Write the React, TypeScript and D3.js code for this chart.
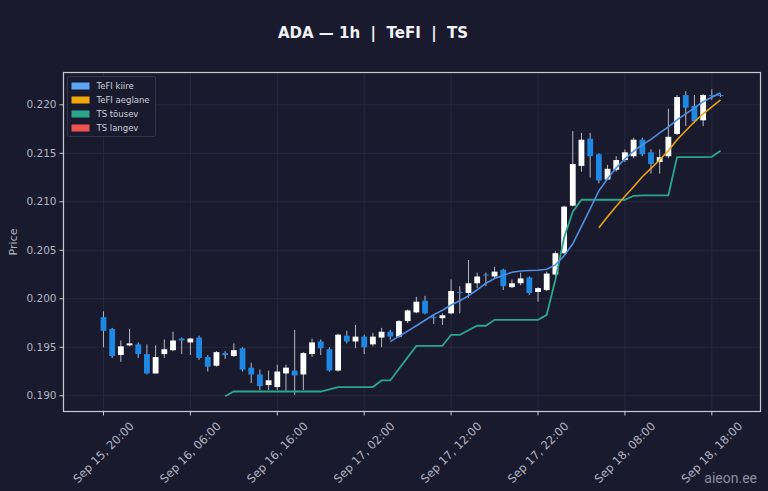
import * as d3 from 'd3';

// hourly candles, starting Sep 15 20:00 (UTC)
const startTime = '2025-09-15T20:00:00Z';

const opens = [
  0.1981, 0.1969, 0.1942, 0.1952, 0.1953, 0.1943, 0.1923, 0.1943, 0.1947, 0.1959,
  0.1955, 0.1960, 0.1940, 0.1931, 0.1944, 0.1941, 0.1949, 0.1929, 0.1922, 0.1911,
  0.1909, 0.1923, 0.1926, 0.1922, 0.1943, 0.1956, 0.1948, 0.1926, 0.1962, 0.1956,
  0.1961, 0.1953, 0.1960, 0.1966, 0.1961, 0.1977, 0.1986, 0.1998, 0.1981, 0.1980,
  0.1985, 0.2007, 0.2006, 0.2016, 0.2025, 0.2023, 0.2030, 0.2012, 0.2016, 0.2022,
  0.2007, 0.2009, 0.2025, 0.2047, 0.2096, 0.2137, 0.2165, 0.2149, 0.2123, 0.2133,
  0.2143, 0.2147, 0.2164, 0.2151, 0.2141, 0.2147, 0.2170, 0.2210, 0.2199, 0.2184,
  0.2210, 0.2210,
];
const highs = [
  0.1987, 0.1970, 0.1957, 0.1969, 0.1955, 0.1953, 0.1952, 0.1958, 0.1966, 0.1960,
  0.1960, 0.1962, 0.1942, 0.1946, 0.1946, 0.1954, 0.1950, 0.1934, 0.1927, 0.1926,
  0.1932, 0.1932, 0.1968, 0.1945, 0.1959, 0.1958, 0.1950, 0.1964, 0.1967, 0.1973,
  0.1963, 0.1965, 0.1970, 0.1968, 0.1978, 0.1989, 0.2002, 0.2003, 0.1984, 0.1985,
  0.2020, 0.2013, 0.2040, 0.2027, 0.2027, 0.2033, 0.2031, 0.2020, 0.2027, 0.2023,
  0.2012, 0.2028, 0.2049, 0.2096, 0.2173, 0.2171, 0.2171, 0.2150, 0.2138, 0.2147,
  0.2154, 0.2166, 0.2166, 0.2154, 0.2154, 0.2196, 0.2210, 0.2214, 0.2210, 0.2211,
  0.2216, 0.2211,
];
const lows = [
  0.1950, 0.1939, 0.1935, 0.1951, 0.1939, 0.1922, 0.1923, 0.1939, 0.1946, 0.1943,
  0.1942, 0.1937, 0.1925, 0.1930, 0.1938, 0.1940, 0.1925, 0.1913, 0.1906, 0.1906,
  0.1906, 0.1905, 0.1901, 0.1906, 0.1940, 0.1942, 0.1925, 0.1925, 0.1954, 0.1949,
  0.1943, 0.1951, 0.1950, 0.1958, 0.1960, 0.1975, 0.1985, 0.1984, 0.1974, 0.1973,
  0.1984, 0.1985, 0.2001, 0.2011, 0.2013, 0.2021, 0.2009, 0.2011, 0.2014, 0.2004,
  0.1997, 0.2008, 0.2023, 0.2046, 0.2095, 0.2131, 0.2125, 0.2119, 0.2123, 0.2131,
  0.2141, 0.2145, 0.2147, 0.2129, 0.2129, 0.2145, 0.2169, 0.2178, 0.2181, 0.2178,
  0.2205, 0.2208,
];
const closes = [
  0.1967, 0.1941, 0.1951, 0.1954, 0.1943, 0.1923, 0.1940, 0.1948, 0.1957, 0.1957,
  0.1959, 0.1939, 0.1930, 0.1945, 0.1942, 0.1947, 0.1927, 0.1922, 0.1910, 0.1916,
  0.1925, 0.1929, 0.1921, 0.1944, 0.1955, 0.1949, 0.1926, 0.1963, 0.1956, 0.1961,
  0.1950, 0.1961, 0.1966, 0.1961, 0.1977, 0.1988, 0.1997, 0.1985, 0.1980, 0.1983,
  0.2008, 0.2006, 0.2016, 0.2023, 0.2024, 0.2028, 0.2013, 0.2016, 0.2021, 0.2006,
  0.2011, 0.2026, 0.2047, 0.2095, 0.2139, 0.2164, 0.2147, 0.2122, 0.2134, 0.2143,
  0.2151, 0.2164, 0.2149, 0.2139, 0.2146, 0.2167, 0.2208, 0.2197, 0.2183, 0.2210,
  0.2209, 0.2209,
];

// indicator lines: [candle index, value]
const tefiFast: [number, number][] = [
  [33, 0.19559], [34, 0.19613], [35, 0.19667], [36, 0.19722], [37, 0.19779],
  [38, 0.19835], [39, 0.19882], [40, 0.19936], [41, 0.19979], [42, 0.20031],
  [43, 0.20093], [44, 0.2016], [45, 0.20209], [46, 0.20242], [47, 0.20273],
  [48, 0.20286], [49, 0.20292], [50, 0.20294], [51, 0.20304], [52, 0.2035],
  [53, 0.20443], [54, 0.20567], [55, 0.20747], [56, 0.20928], [57, 0.21113],
  [58, 0.21237], [59, 0.2135], [60, 0.21443], [61, 0.21521], [62, 0.21588],
  [63, 0.21644], [64, 0.21711], [65, 0.21773], [66, 0.21845], [67, 0.21907],
  [68, 0.21969], [69, 0.22031], [70, 0.22077], [71, 0.22124],
];
const tefiSlow: [number, number][] = [
  [57, 0.20732], [58, 0.20845], [59, 0.20954], [60, 0.21057], [61, 0.21155],
  [62, 0.21258], [63, 0.21345], [64, 0.21433], [65, 0.21526], [66, 0.21639],
  [67, 0.21732], [68, 0.21825], [69, 0.21907], [70, 0.21979], [71, 0.22052],
];
const tsUp: [number, number][] = [
  [14, 0.18995], [15, 0.19044], [16, 0.19044], [17, 0.19044], [18, 0.19044],
  [19, 0.19044], [20, 0.19044], [21, 0.19044], [22, 0.19044], [23, 0.19044],
  [24, 0.19044], [25, 0.19044], [26, 0.19067], [27, 0.1909], [28, 0.1909],
  [29, 0.1909], [30, 0.1909], [31, 0.1909], [32, 0.19158], [33, 0.19158],
  [34, 0.19278], [35, 0.19396], [36, 0.19515], [37, 0.19515], [38, 0.19515],
  [39, 0.19515], [40, 0.19629], [41, 0.19629], [42, 0.19675], [43, 0.19722],
  [44, 0.19722], [45, 0.19783], [46, 0.19783], [47, 0.19783], [48, 0.19783],
  [49, 0.19783], [50, 0.19783], [51, 0.19835], [52, 0.20196], [53, 0.20629],
  [54, 0.20897], [55, 0.21021], [56, 0.21021], [57, 0.21021], [58, 0.21021],
  [59, 0.21021], [60, 0.21021], [61, 0.21062], [62, 0.21067], [63, 0.21067],
  [64, 0.21067], [65, 0.21067], [66, 0.21461], [67, 0.21461], [68, 0.21461],
  [69, 0.21461], [70, 0.21464], [71, 0.21526],
];

const xTicks = [
  '2025-09-15T20:00:00Z', '2025-09-16T06:00:00Z', '2025-09-16T16:00:00Z', '2025-09-17T02:00:00Z',
  '2025-09-17T12:00:00Z', '2025-09-17T22:00:00Z', '2025-09-18T08:00:00Z', '2025-09-18T18:00:00Z',
];
const yTicks = [0.19, 0.195, 0.2, 0.205, 0.21, 0.215, 0.22];

const legendItems = [
  { label: 'TeFI kiire', color: '#5aa6f5' },
  { label: 'TeFI aeglane', color: '#f0a80c' },
  { label: 'TS tõusev', color: '#2ba58b' },
  { label: 'TS langev', color: '#ef5350' },
];

const W = 768;
const H = 491;
const left = 63.5;
const right = 760.5;
const top = 72.5;
const bottom = 411.5;
const HOUR = 3600 * 1000;
const BG = '#1a1a2e';
const TXT = '#b4b4c2';
const font = 'DejaVu Sans, sans-serif';

const t0 = new Date(startTime).getTime();
const timeAt = (i: number) => new Date(t0 + i * HOUR);

export default function App() {
  const n = closes.length;
  const x = d3
    .scaleUtc()
    .domain([new Date(t0 - 4.6 * HOUR), new Date(t0 + (n - 1 + 4.6) * HOUR)])
    .range([left, right]);
  const y = d3.scaleLinear().domain([0.18838, 0.22333]).range([bottom, top]);
  const fmt = d3.utcFormat('%b %d, %H:%M');
  const bodyW = 5.8;

  const line = d3
    .line<[number, number]>()
    .x((d) => x(timeAt(d[0])))
    .y((d) => y(d[1]));

  return (
    <svg width={W} height={H} style={{ position: 'fixed', left: 0, top: 0, background: BG }} fontFamily={font}>
      <rect width={W} height={H} fill={BG} />
      <text
        x={373}
        y={38}
        textAnchor="middle"
        fill="#f2f2f5"
        fontSize={15}
        fontWeight="bold"
        style={{ whiteSpace: 'pre' }}
      >
        {'ADA — 1h  |  TeFI  |  TS'}
      </text>

      {/* grid */}
      <g stroke="#2b2b45" strokeWidth={0.8}>
        {xTicks.map((t) => (
          <line key={t} x1={x(new Date(t))} x2={x(new Date(t))} y1={top} y2={bottom} />
        ))}
        {yTicks.map((v) => (
          <line key={v} x1={left} x2={right} y1={y(v)} y2={y(v)} />
        ))}
      </g>

      {/* candles */}
      {closes.map((c, i) => {
        const o = opens[i];
        const cx = x(timeAt(i));
        const up = c >= o;
        const y1 = y(Math.max(o, c));
        const y2 = y(Math.min(o, c));
        return (
          <g key={i}>
            <line x1={cx} x2={cx} y1={y(highs[i])} y2={y(lows[i])} stroke="#b8b8c0" strokeWidth={1} />
            <rect
              x={cx - bodyW / 2}
              y={y1}
              width={bodyW}
              height={Math.max(1, y2 - y1)}
              fill={up ? '#ffffff' : '#1e88e5'}
            />
          </g>
        );
      })}

      {/* indicators */}
      <path d={line(tsUp) ?? ''} fill="none" stroke="#2ba58b" strokeWidth={1.8} />
      <path d={line(tefiSlow) ?? ''} fill="none" stroke="#e8a317" strokeWidth={1.6} />
      <path d={line(tefiFast) ?? ''} fill="none" stroke="#4f8fdf" strokeWidth={1.6} />

      {/* frame */}
      <rect x={left} y={top} width={right - left} height={bottom - top} fill="none" stroke="#c9c9d2" strokeWidth={1.2} />

      {/* y axis */}
      {yTicks.map((v) => (
        <g key={v}>
          <line x1={left - 4} x2={left} y1={y(v)} y2={y(v)} stroke="#c9c9d2" />
          <text x={left - 7} y={y(v)} dy="0.35em" textAnchor="end" fill={TXT} fontSize={10.5}>
            {d3.format('.3f')(v)}
          </text>
        </g>
      ))}
      <text transform={`translate(17,${(top + bottom) / 2}) rotate(-90)`} textAnchor="middle" fill={TXT} fontSize={11}>
        Price
      </text>

      {/* x axis */}
      {xTicks.map((t) => {
        const px = x(new Date(t));
        return (
          <g key={t}>
            <line x1={px} x2={px} y1={bottom} y2={bottom + 4} stroke="#c9c9d2" />
            <text
              transform={`translate(${px},${bottom + 41}) rotate(-45)`}
              textAnchor="middle"
              dy="0.35em"
              fill={TXT}
              fontSize={11.5}
            >
              {fmt(new Date(t))}
            </text>
          </g>
        );
      })}

      {/* legend */}
      <g transform={`translate(${left + 4},${top + 4})`}>
        <rect width={88} height={60} rx={2} fill={BG} stroke="#3c3c55" strokeWidth={0.8} />
        {legendItems.map((d, i) => (
          <g key={d.label} transform={`translate(4,${9.5 + i * 14})`}>
            <rect x={0} y={-3.5} width={18} height={7} fill={d.color} />
            <text x={25} y={0} dy="0.35em" fill="#d0d0da" fontSize={8.5}>
              {d.label}
            </text>
          </g>
        ))}
      </g>

      <text x={757} y={483} textAnchor="end" fill="#8d8d9c" fontSize={14} fontFamily="Roboto, DejaVu Sans, sans-serif">
        aieon.ee
      </text>
    </svg>
  );
}
